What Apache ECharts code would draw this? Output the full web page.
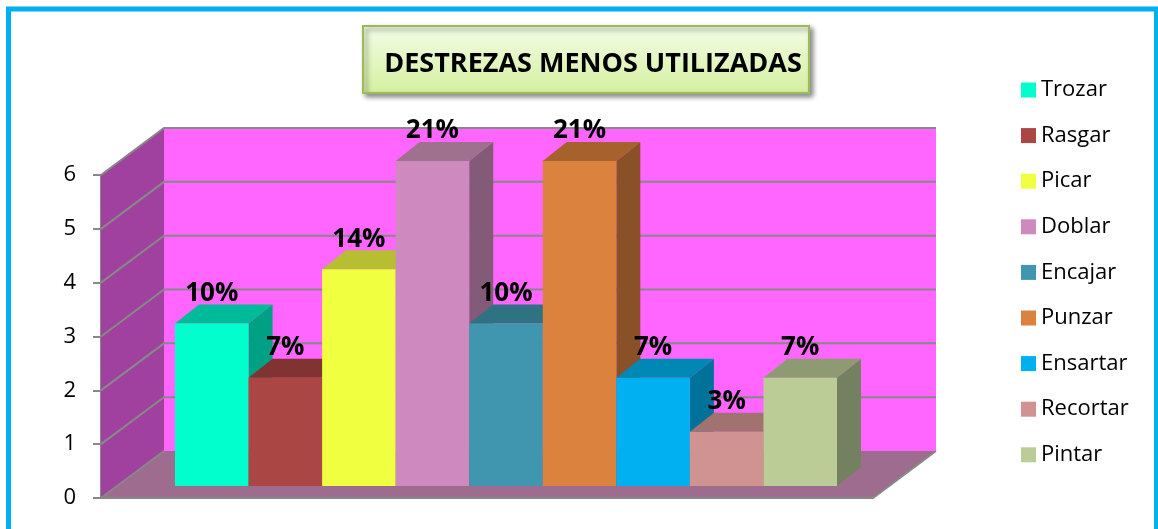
<!DOCTYPE html>
<html><head><meta charset="utf-8">
<script src="https://cdn.jsdelivr.net/npm/echarts@6/dist/echarts.min.js"></script>
<style>html,body{margin:0;padding:0;background:#fff}#c{width:1158px;height:529px}</style>
</head><body><div id="c"></div>
<script>
const categories = ['Trozar','Rasgar','Picar','Doblar','Encajar','Punzar','Ensartar','Recortar','Pintar'];
const values = [3, 2, 4, 6, 3, 6, 2, 1, 2];
const percentLabels = ['10%','7%','14%','21%','10%','21%','7%','3%','7%'];
const yTicks = [0, 1, 2, 3, 4, 5, 6];
const titleText = 'DESTREZAS MENOS UTILIZADAS';

const frontColors = ['#00FFCC','#AA4644','#F0FF40','#CE8ABF','#4196AF','#DB823E','#00B0F0','#D19292','#BBCC96'];
const topColors   = ['#00BB99','#803330','#B8BE32','#A0708F','#2F7282','#A5622D','#0088B5','#A07270','#8E9B72'];
const sideColors  = ['#00A085','#6E2A28','#9EA42A','#835A78','#28616F','#8A5028','#00729A','#8A5F5E','#748160'];

const WALL_DX = 63, WALL_DY = -47;
const BAR_DX = 24, BAR_DY = -19;
const GRID_COL = '#888888';
const FONT = '"Open Sans", "Noto Sans", sans-serif';
const yMax = yTicks[yTicks.length - 1];

function renderWalls(params, api) {
  const v = api.value(1);
  const f0 = api.coord([0, v]);
  const f1 = api.coord([1, v]);
  const children = [];
  if (params.dataIndex === 0) {
    const t0 = api.coord([0, yMax]);
    const t1 = api.coord([1, yMax]);
    children.push({type: 'polygon', shape: {points: [
      [t0[0] + WALL_DX, t0[1] + WALL_DY], [t1[0] + WALL_DX, t1[1] + WALL_DY],
      [f1[0] + WALL_DX, f1[1] + WALL_DY], [f0[0] + WALL_DX, f0[1] + WALL_DY]]},
      style: {fill: '#FF66FF'}});
    children.push({type: 'polygon', shape: {points: [
      [t0[0], t0[1]], [t0[0] + WALL_DX, t0[1] + WALL_DY],
      [f0[0] + WALL_DX, f0[1] + WALL_DY], [f0[0], f0[1]]]},
      style: {fill: '#A0409F'}});
    children.push({type: 'polygon', shape: {points: [
      [f0[0], f0[1]], [f1[0], f1[1]],
      [f1[0] + WALL_DX, f1[1] + WALL_DY], [f0[0] + WALL_DX, f0[1] + WALL_DY]]},
      style: {fill: '#9E6C8F'}});
    children.push({type: 'polyline', shape: {points: [
      [f0[0] + WALL_DX, f0[1] + WALL_DY], [f0[0], f0[1]], [f1[0], f1[1]], [f1[0] + WALL_DX, f1[1] + WALL_DY]]},
      style: {stroke: GRID_COL, lineWidth: 2, fill: null}});
  } else {
    children.push({type: 'polyline', shape: {points: [
      [f0[0], f0[1]], [f0[0] + WALL_DX, f0[1] + WALL_DY], [f1[0] + WALL_DX, f1[1] + WALL_DY]]},
      style: {stroke: GRID_COL, lineWidth: 2, fill: null}});
  }
  return {type: 'group', children};
}

function makeBarRenderer(i) {
  return function (params, api) {
    const idx = api.value(0), v = api.value(1);
    const c = api.coord([idx, v]);
    const b = api.coord([idx, 0]);
    const w = api.size([1, 0])[0];
    const xl = c[0] - w / 2, xr = c[0] + w / 2, yt = c[1], yb = b[1];
    return {type: 'group', children: [
      {type: 'polygon', shape: {points: [[xr, yt], [xr + BAR_DX, yt + BAR_DY], [xr + BAR_DX, yb + BAR_DY], [xr, yb]]},
        style: {fill: sideColors[i]}},
      {type: 'polygon', shape: {points: [[xl, yt], [xr, yt], [xr + BAR_DX, yt + BAR_DY], [xl + BAR_DX, yt + BAR_DY]]},
        style: {fill: topColors[i]}},
      {type: 'rect', shape: {x: xl, y: yt, width: xr - xl, height: yb - yt},
        style: {fill: frontColors[i]}}
    ]};
  };
}

function renderLabel(params, api) {
  const idx = api.value(0), v = api.value(1);
  const c = api.coord([idx, v]);
  return {type: 'text', x: c[0], y: c[1] + BAR_DY + 2,
    style: {text: percentLabels[params.dataIndex], fill: '#000', align: 'center', verticalAlign: 'bottom',
      font: 'bold 26px ' + FONT}};
}

const series = [{
  type: 'custom', name: '_walls', xAxisIndex: 0, yAxisIndex: 0, z: 1, silent: true,
  renderItem: renderWalls, data: yTicks.map(t => [0, t])
}];
categories.forEach((name, i) => {
  series.push({
    type: 'custom', name: name, xAxisIndex: 1, yAxisIndex: 1, z: 2 + i,
    itemStyle: {color: frontColors[i]},
    renderItem: makeBarRenderer(i), data: [[i, values[i]]]
  });
});
series.push({
  type: 'custom', name: '_labels', xAxisIndex: 1, yAxisIndex: 1, z: 50, silent: true,
  renderItem: renderLabel, data: values.map((v, i) => [i, v])
});

const chart = echarts.init(document.getElementById('c'), null, {renderer: 'canvas'});
chart.setOption({
  animation: false,
  backgroundColor: '#fff',
  grid: [
    {left: 101, top: 175, width: 772, height: 323},
    {left: 175, top: 161, width: 662, height: 325}
  ],
  xAxis: [
    {gridIndex: 0, type: 'value', min: 0, max: 1, show: false},
    {gridIndex: 1, type: 'category', data: categories, show: false}
  ],
  yAxis: [
    {gridIndex: 0, type: 'value', min: 0, max: yMax, interval: 1,
      axisLine: {show: true, lineStyle: {color: GRID_COL, width: 2}},
      axisTick: {show: true, length: 8, lineStyle: {color: GRID_COL, width: 2}},
      axisLabel: {margin: 25, fontSize: 22, fontFamily: FONT, color: '#000'},
      splitLine: {show: false}},
    {gridIndex: 1, type: 'value', min: 0, max: yMax, show: false}
  ],
  legend: {
    data: categories, orient: 'vertical', left: 1021, top: 78, padding: 0,
    itemWidth: 15, itemHeight: 15, itemGap: 21.6, icon: 'rect', selectedMode: false,
    textStyle: {fontSize: 22, fontFamily: FONT, color: '#000', lineHeight: 24}
  },
  graphic: [
    {type: 'rect', shape: {x: 8.5, y: 9, width: 1148, height: 600},
      style: {fill: null, stroke: '#00B0F0', lineWidth: 5}, z: 100, silent: true},
    {type: 'group', left: 362, top: 25, children: [
      {type: 'rect', shape: {x: 0, y: 0, width: 446, height: 67},
        style: {
          fill: new echarts.graphic.LinearGradient(0, 0, 0, 1, [
            {offset: 0, color: '#F4FCE8'}, {offset: 1, color: '#D4F09E'}]),
          stroke: '#9BBB59', lineWidth: 2,
          shadowBlur: 5, shadowOffsetX: 3, shadowOffsetY: 3, shadowColor: 'rgba(0,0,0,0.45)'}},
      {type: 'text', x: 230, y: 38,
        style: {text: titleText, align: 'center', verticalAlign: 'middle', fill: '#000',
          font: 'bold 27px ' + FONT}}
    ]}
  ],
  series: series
});
</script></body></html>
